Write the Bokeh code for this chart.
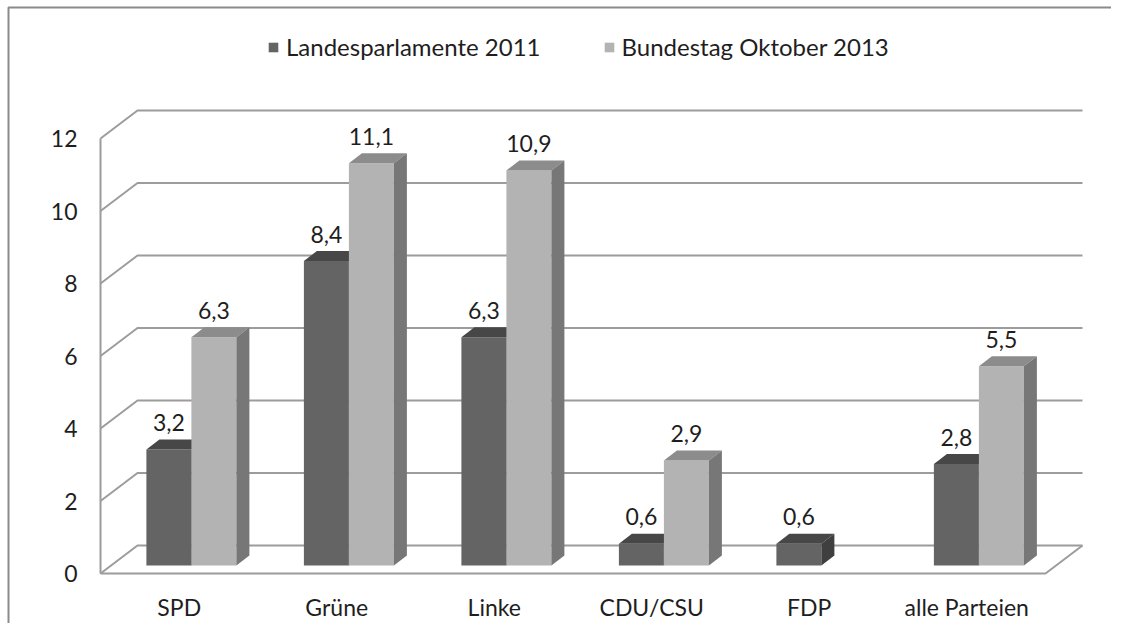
import numpy as np
from bokeh.plotting import figure
from bokeh.models import Range1d, FixedTicker, Legend, LegendItem, ColumnDataSource
from bokeh.core.properties import value
from bokeh.embed import file_html
from bokeh.resources import INLINE

# ---- data ----
categories = ["SPD", "Grüne", "Linke", "CDU/CSU", "FDP", "alle Parteien"]
landes_2011 = [3.2, 8.4, 6.3, 0.6, 0.6, 2.8]
bundestag_2013 = [6.3, 11.1, 10.9, 2.9, 0.0, 5.5]
series_names = ["Landesparlamente 2011", "Bundestag Oktober 2013"]
y_ticks = [0, 2, 4, 6, 8, 10, 12]

# ---- styling / geometry (px -> data conversions) ----
WIDTH, HEIGHT = 1111, 623
ORIG_X, ORIG_Y = 100, 573   # canvas position of the front-left corner of the floor
PX_X = 157.5     # px per category unit
PX_Y = 36.25     # px per value unit
DX, DY = 37 / PX_X, 28 / PX_Y          # wall depth
FX, FY = 8 * 37 / 28 / PX_X, 8 / PX_Y   # bar front offset
DDX, DDY = 13 / PX_X, 10 / PX_Y        # bar depth
W = 45 / PX_X                          # bar width
CENTER = 0.51
FONT = "Lato"
FS = "23px"
TXT = "#1e1e1e"
GRID = "#9c9c9c"
face = {0: ("#646464", "#474747", "#3f3f3f"), 1: ("#b3b3b3", "#8c8c8c", "#777777")}


def cx(px):
    return (px - ORIG_X) / PX_X


def cy(py):
    return (ORIG_Y - py) / PX_Y


n = len(categories)
p = figure(width=WIDTH, height=HEIGHT,
           x_range=Range1d(cx(0), cx(WIDTH)),
           y_range=Range1d(cy(HEIGHT), cy(0)),
           output_backend="svg", toolbar_location=None,
           min_border_left=0, min_border_right=0, min_border_top=0, min_border_bottom=0)
p.outline_line_color = None
p.xgrid.visible = False
p.ygrid.visible = False
p.background_fill_color = "white"
p.border_fill_color = "white"

# outer chart border (only its top and left edges fall inside the picture)
p.line(x=[cx(8), cx(8), cx(WIDTH + 40)], y=[cy(HEIGHT + 40), cy(7), cy(7)],
       line_color="#8a8a8a", line_width=2)

# ---- walls / grid ----
gx, gy = [], []
for t in y_ticks:
    gx.append([0, DX, n + DX]); gy.append([t, t + DY, t + DY])
gx.append([0, 0]); gy.append([y_ticks[0], y_ticks[-1]])
gx.append([0, n, n + DX]); gy.append([0, 0, DY])
p.multi_line(gx, gy, line_color=GRID, line_width=2)

# ---- bars ----
legend_renderers = []
label_x, label_y, label_t = [], [], []
for s, vals in enumerate([landes_2011, bundestag_2013]):
    fc, tc, sc = face[s]
    idx = [i for i, v in enumerate(vals) if v > 0]
    v = np.array([vals[i] for i in idx])
    x0 = np.array([i + CENTER - W + s * W + FX for i in idx])
    x1 = x0 + W
    b = FY
    top = v + b
    src = ColumnDataSource(dict(left=x0, right=x1, bottom=[b] * len(idx), top=top))
    r = p.quad(left="left", right="right", bottom="bottom", top="top", source=src,
               fill_color=fc, line_color=None)
    legend_renderers.append(r)
    txs = [[a, c, c + DDX, a + DDX] for a, c in zip(x0, x1)]
    tys = [[t, t, t + DDY, t + DDY] for t in top]
    p.patches(txs, tys, fill_color=tc, line_color=None)
    sxs = [[c, c, c + DDX, c + DDX] for c in x1]
    sys_ = [[b, t, t + DDY, b + DDY] for t in top]
    p.patches(sxs, sys_, fill_color=sc, line_color=None)
    for a, c, t, val in zip(x0, x1, top, v):
        label_x.append((a + c) / 2)
        label_y.append(t + DDY + 17 / PX_Y)
        label_t.append(f"{val:.1f}".replace(".", ","))

p.text(x=label_x, y=label_y, text=label_t, text_align="center", text_baseline="middle",
       text_font=value(FONT), text_font_size=FS, text_color=TXT)

# ---- axes (labels drawn inside the canvas) ----
for ax in (p.xaxis[0], p.yaxis[0]):
    ax.axis_line_color = None
    ax.major_tick_line_color = None
    ax.minor_tick_line_color = None
    ax.major_tick_out = 0
    ax.major_tick_in = 0
    ax.minor_tick_out = 0
    ax.major_label_text_font = FONT
    ax.major_label_text_font_size = FS
    ax.major_label_text_color = TXT

p.yaxis.ticker = FixedTicker(ticks=y_ticks)
p.yaxis.major_label_standoff = -77

p.xaxis.ticker = FixedTicker(ticks=[i + 0.5 for i in range(n)])
p.xaxis.major_label_overrides = {i + 0.5: c for i, c in enumerate(categories)}
p.xaxis.major_label_standoff = -(HEIGHT - 592)

# ---- legend ----
legend = Legend(items=[LegendItem(label=series_names[k], renderers=[legend_renderers[k]]) for k in range(2)],
                orientation="horizontal", location=(267, HEIGHT - 61))
legend.glyph_width = 12
legend.glyph_height = 12
legend.label_standoff = 7
legend.spacing = 62
legend.padding = 0
legend.margin = 0
legend.border_line_color = None
legend.background_fill_alpha = 0
legend.label_text_font = FONT
legend.label_text_font_size = "24px"
legend.label_text_color = TXT
p.add_layout(legend)

open("out.html", "w").write(file_html(p, INLINE))
